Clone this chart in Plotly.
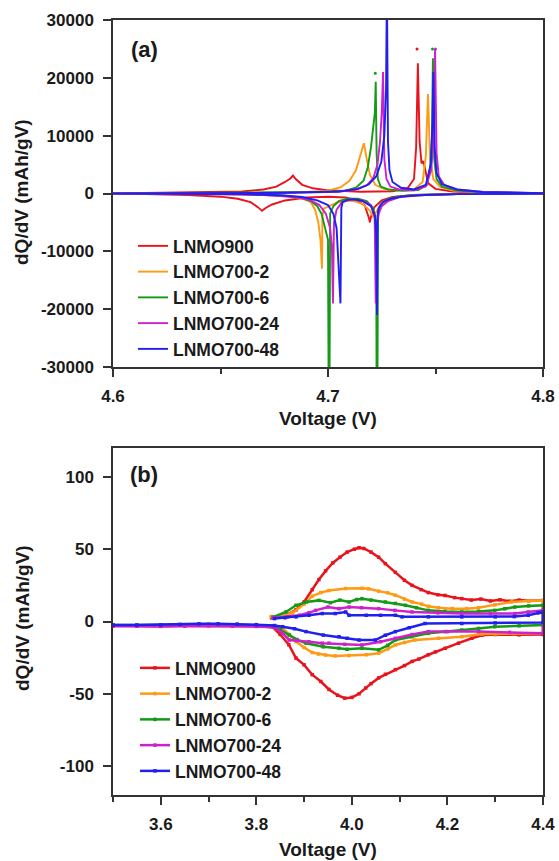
import plotly.graph_objects as go

W, H = 559, 861

names = ["LNMO900", "LNMO700-2", "LNMO700-6", "LNMO700-24", "LNMO700-48"]
colors = ["#e8141c", "#ff9a14", "#159a15", "#cc22cc", "#2020ee"]

# ---------------- panel (a): 4.6 - 4.8 V ----------------
red_v_chg = [4.600, 4.640, 4.660, 4.670, 4.676, 4.680, 4.6825, 4.6837, 4.685, 4.688, 4.693, 4.700, 4.715, 4.730, 4.737, 4.7400, 4.7410, 4.7418, 4.7426, 4.7435, 4.7443, 4.7452, 4.7465, 4.750, 4.758, 4.770, 4.800]
red_q_chg = [0, 150, 350, 700, 1200, 2000, 2600, 3100, 2500, 1500, 900, 550, 300, 400, 900, 2500, 8000, 22500, 9000, 5200, 5600, 4200, 1800, 800, 350, 150, 50]
red_v_dis = [4.800, 4.760, 4.740, 4.730, 4.725, 4.7215, 4.7200, 4.7195, 4.7190, 4.7170, 4.7130, 4.708, 4.700, 4.690, 4.680, 4.674, 4.6710, 4.6693, 4.6675, 4.664, 4.658, 4.650, 4.635, 4.615, 4.600]
red_q_dis = [0, -80, -250, -600, -1200, -2400, -4000, -5000, -4200, -2000, -1100, -700, -550, -700, -1200, -1900, -2500, -3000, -2400, -1500, -900, -550, -250, -100, 0]

org_v_chg = [4.600, 4.660, 4.690, 4.700, 4.706, 4.710, 4.7130, 4.7150, 4.7167, 4.7180, 4.7195, 4.722, 4.726, 4.733, 4.740, 4.7440, 4.7455, 4.7465, 4.7475, 4.7490, 4.752, 4.758, 4.770, 4.800]
org_q_chg = [0, 80, 250, 500, 1100, 2200, 4000, 6500, 8700, 6000, 3200, 1500, 800, 500, 700, 2000, 6500, 17200, 6000, 2500, 1200, 500, 150, 30]
org_v_dis = [4.800, 4.760, 4.745, 4.735, 4.728, 4.7245, 4.7220, 4.7210, 4.7195, 4.716, 4.712, 4.708, 4.704, 4.700, 4.6980, 4.6974, 4.6972, 4.6965, 4.6955, 4.694, 4.692, 4.689, 4.684, 4.675, 4.660, 4.640, 4.600]
org_q_dis = [0, -100, -250, -500, -1000, -2000, -3500, -4000, -3000, -1800, -1300, -1200, -1600, -2200, -2600, -4000, -13000, -8000, -5000, -2800, -1500, -1000, -600, -300, -150, -50, 0]

grn_v_chg = [4.600, 4.680, 4.700, 4.708, 4.713, 4.7165, 4.7185, 4.7200, 4.7210, 4.7218, 4.7222, 4.7226, 4.7232, 4.7245, 4.728, 4.735, 4.742, 4.7460, 4.7475, 4.7483, 4.7488, 4.7494, 4.7505, 4.753, 4.760, 4.772, 4.800]
grn_q_chg = [0, 100, 250, 500, 1000, 2200, 4500, 8000, 11500, 14000, 19300, 7000, 2500, 1200, 700, 450, 600, 1500, 4500, 9000, 23400, 6000, 2500, 1200, 500, 200, 50]
grn_v_dis = [4.800, 4.760, 4.740, 4.732, 4.727, 4.7245, 4.7233, 4.7230, 4.7226, 4.7224, 4.7210, 4.7180, 4.714, 4.709, 4.705, 4.7025, 4.7010, 4.7007, 4.7003, 4.7000, 4.6985, 4.6970, 4.695, 4.692, 4.688, 4.680, 4.665, 4.640, 4.600]
grn_q_dis = [0, -80, -250, -550, -1100, -1900, -3000, -35000, -35000, -5000, -2500, -1300, -900, -900, -1300, -2200, -3500, -35000, -35000, -8000, -5500, -3500, -2200, -1300, -800, -400, -150, -50, 0]

mag_v_chg = [4.600, 4.680, 4.705, 4.713, 4.718, 4.7210, 4.7230, 4.7242, 4.7250, 4.7256, 4.7262, 4.7272, 4.729, 4.733, 4.740, 4.7455, 4.7480, 4.7490, 4.7498, 4.7505, 4.7515, 4.754, 4.760, 4.772, 4.800]
mag_q_chg = [0, 100, 300, 700, 1400, 2600, 5000, 9000, 14000, 21000, 6000, 2500, 1200, 700, 550, 1200, 4000, 9000, 25000, 7000, 3000, 1500, 700, 250, 60]
mag_v_dis = [4.800, 4.760, 4.742, 4.733, 4.728, 4.7250, 4.7236, 4.7228, 4.7222, 4.7217, 4.7200, 4.716, 4.711, 4.7065, 4.7040, 4.7028, 4.7023, 4.7018, 4.7010, 4.6990, 4.696, 4.692, 4.685, 4.670, 4.645, 4.600]
mag_q_dis = [0, -100, -300, -650, -1300, -2200, -3500, -5500, -19000, -4000, -2000, -1200, -1000, -1500, -2800, -5000, -19000, -9000, -6000, -3500, -2000, -1200, -600, -250, -80, 0]

blu_v_chg = [4.600, 4.680, 4.705, 4.714, 4.719, 4.7225, 4.7248, 4.7262, 4.7270, 4.7274, 4.7279, 4.7286, 4.730, 4.734, 4.740, 4.7455, 4.7478, 4.7486, 4.7490, 4.7496, 4.7505, 4.753, 4.760, 4.772, 4.800]
blu_q_chg = [0, 120, 350, 800, 1600, 3000, 5500, 10000, 18000, 36000, 9000, 4000, 2000, 1000, 700, 1500, 5000, 12000, 21000, 8000, 3500, 1600, 700, 250, 60]
blu_v_dis = [4.800, 4.760, 4.745, 4.735, 4.7290, 4.7255, 4.7236, 4.7230, 4.7228, 4.7224, 4.7218, 4.720, 4.716, 4.712, 4.709, 4.7068, 4.7062, 4.7058, 4.7054, 4.7048, 4.7040, 4.7025, 4.700, 4.695, 4.688, 4.678, 4.660, 4.600]
blu_q_dis = [0, -100, -250, -500, -900, -1500, -2500, -4000, -21000, -7000, -3800, -2200, -1300, -1000, -1100, -1500, -2500, -19000, -16000, -10000, -6000, -3500, -2000, -1200, -600, -300, -100, 0]

# stray isolated points near the tops of the charge peaks
dots_v = [[4.7414], [], [4.7220, 4.7486], [4.7500], []]
dots_q = [[25000], [], [20800, 25000], [25000], []]

# ---------------- panel (b): 3.5 - 4.4 V ----------------
red_b_v_chg = [3.832, 3.850, 3.865, 3.883, 3.900, 3.917, 3.931, 3.945, 3.960, 3.975, 3.990, 4.005, 4.015, 4.025, 4.040, 4.056, 4.070, 4.091, 4.110, 4.126, 4.145, 4.160, 4.180, 4.195, 4.215, 4.230, 4.250, 4.270, 4.290, 4.310, 4.330, 4.350, 4.370, 4.400]
red_b_q_chg = [2.5, 3.5, 5.0, 8.0, 13.5, 22.0, 29.0, 35.0, 40.5, 44.5, 48.0, 50.0, 51.0, 50.5, 48.0, 44.5, 40.0, 34.0, 28.5, 25.0, 22.0, 20.0, 18.5, 18.0, 16.5, 15.8, 14.8, 15.5, 14.2, 15.0, 14.0, 14.8, 14.3, 14.6]
red_b_v_dis = [4.400, 4.350, 4.300, 4.272, 4.251, 4.223, 4.195, 4.175, 4.160, 4.140, 4.126, 4.110, 4.091, 4.070, 4.056, 4.040, 4.029, 4.015, 4.000, 3.985, 3.970, 3.952, 3.935, 3.917, 3.900, 3.883, 3.868, 3.850, 3.835, 3.800, 3.750, 3.700, 3.650, 3.600, 3.550, 3.500]
red_b_q_dis = [-9.0, -9.2, -9.0, -9.5, -11.6, -15.0, -18.5, -21.0, -23.0, -26.0, -27.6, -30.5, -33.3, -36.5, -39.0, -43.0, -46.0, -50.0, -52.5, -53.0, -51.0, -47.0, -41.5, -36.8, -30.0, -25.3, -16.0, -9.0, -4.0, -3.2, -3.0, -2.5, -2.8, -3.2, -3.0, -3.0]

org_b_v_chg = [3.831, 3.850, 3.876, 3.900, 3.917, 3.935, 3.952, 3.987, 4.021, 4.035, 4.056, 4.075, 4.091, 4.110, 4.126, 4.146, 4.160, 4.181, 4.210, 4.240, 4.265, 4.299, 4.334, 4.370, 4.400]
org_b_q_chg = [3.4, 3.8, 6.0, 12.0, 17.5, 20.0, 21.4, 22.8, 23.0, 22.6, 21.0, 19.8, 18.2, 15.5, 13.5, 12.0, 10.5, 9.5, 8.9, 8.9, 9.5, 11.5, 13.5, 14.2, 14.6]
org_b_v_dis = [4.400, 4.340, 4.300, 4.272, 4.230, 4.181, 4.132, 4.110, 4.091, 4.075, 4.056, 4.030, 3.994, 3.965, 3.945, 3.930, 3.917, 3.900, 3.883, 3.869, 3.855, 3.838, 3.800, 3.750, 3.700, 3.650, 3.600, 3.550, 3.500]
org_b_q_dis = [-8.2, -8.3, -8.5, -8.6, -10.5, -11.6, -12.8, -14.5, -16.2, -19.0, -21.9, -23.0, -23.5, -23.8, -23.2, -22.5, -21.5, -18.0, -13.9, -9.0, -4.8, -3.0, -2.8, -2.6, -2.2, -2.6, -2.8, -2.7, -2.6]

grn_b_v_chg = [3.835, 3.862, 3.883, 3.905, 3.931, 3.955, 3.975, 3.994, 4.010, 4.021, 4.040, 4.070, 4.091, 4.112, 4.135, 4.160, 4.195, 4.230, 4.265, 4.299, 4.320, 4.341, 4.370, 4.400]
grn_b_q_chg = [3.0, 6.6, 11.2, 13.5, 14.6, 13.0, 14.8, 13.5, 15.2, 15.8, 14.8, 13.5, 12.5, 11.2, 9.5, 7.7, 7.0, 6.6, 7.0, 7.7, 8.8, 10.0, 10.8, 11.2]
grn_b_v_dis = [4.400, 4.350, 4.299, 4.265, 4.230, 4.195, 4.160, 4.125, 4.091, 4.075, 4.056, 4.021, 3.990, 3.973, 3.940, 3.904, 3.885, 3.869, 3.850, 3.836, 3.800, 3.750, 3.700, 3.650, 3.600, 3.550, 3.500]
grn_b_q_dis = [-2.5, -3.0, -3.6, -4.8, -5.9, -7.0, -8.2, -10.5, -12.8, -16.5, -19.6, -18.5, -19.2, -18.5, -17.5, -15.0, -12.5, -9.4, -5.5, -3.0, -2.6, -2.4, -1.9, -2.3, -2.6, -2.5, -2.4]

mag_b_v_chg = [3.836, 3.865, 3.890, 3.910, 3.924, 3.950, 3.973, 3.994, 4.020, 4.056, 4.090, 4.126, 4.180, 4.230, 4.290, 4.341, 4.369, 4.400]
mag_b_q_chg = [2.5, 3.2, 4.3, 6.0, 7.7, 10.0, 8.9, 10.0, 9.5, 8.9, 7.7, 6.6, 6.0, 5.5, 5.5, 5.5, 6.6, 7.7]
mag_b_v_dis = [4.400, 4.330, 4.265, 4.200, 4.160, 4.126, 4.091, 4.060, 4.021, 3.985, 3.952, 3.938, 3.910, 3.885, 3.869, 3.855, 3.838, 3.800, 3.750, 3.700, 3.650, 3.600, 3.550, 3.500]
mag_b_q_dis = [-8.2, -7.5, -7.0, -7.0, -7.0, -9.0, -11.6, -14.0, -16.2, -15.8, -15.0, -15.0, -14.0, -13.2, -12.8, -8.2, -4.0, -3.4, -3.2, -3.0, -3.2, -3.4, -3.3, -3.2]

blu_b_v_chg = [3.838, 3.860, 3.883, 3.910, 3.938, 3.965, 3.987, 3.994, 4.030, 4.060, 4.091, 4.105, 4.160, 4.230, 4.300, 4.340, 4.369, 4.390, 4.400]
blu_b_q_chg = [2.0, 2.6, 3.2, 4.3, 5.5, 5.5, 6.6, 4.3, 4.3, 4.3, 4.3, 3.2, 3.2, 3.2, 3.2, 3.4, 4.3, 6.0, 6.6]
blu_b_v_dis = [4.400, 4.300, 4.230, 4.153, 4.120, 4.091, 4.070, 4.049, 4.015, 3.990, 3.973, 3.940, 3.904, 3.880, 3.855, 3.838, 3.800, 3.760, 3.720, 3.680, 3.640, 3.600, 3.550, 3.500]
blu_b_q_dis = [-0.7, -1.0, -1.4, -1.4, -4.3, -7.0, -9.5, -12.8, -12.8, -11.6, -10.5, -9.4, -7.0, -5.0, -3.6, -2.8, -2.2, -1.8, -1.6, -1.6, -2.0, -2.4, -2.5, -2.5]

# tick labels
a_xticks = [4.6, 4.7, 4.8]
a_xlabels = ["4.6", "4.7", "4.8"]
a_xminor = [4.65, 4.75]
a_yticks = [-30000, -20000, -10000, 0, 10000, 20000, 30000]
a_ylabels = ["-30000", "-20000", "-10000", "0", "10000", "20000", "30000"]
b_xticks = [3.6, 3.8, 4.0, 4.2, 4.4]
b_xlabels = ["3.6", "3.8", "4.0", "4.2", "4.4"]
b_xminor = [3.5, 3.7, 3.9, 4.1, 4.3]
b_yticks = [-100, -50, 0, 50, 100]
b_ylabels = ["-100", "-50", "0", "50", "100"]

panel_a = [
    (red_v_chg + red_v_dis, red_q_chg + red_q_dis),
    (org_v_chg + org_v_dis, org_q_chg + org_q_dis),
    (grn_v_chg + grn_v_dis, grn_q_chg + grn_q_dis),
    (mag_v_chg + mag_v_dis, mag_q_chg + mag_q_dis),
    (blu_v_chg + blu_v_dis, blu_q_chg + blu_q_dis),
]
panel_b = [
    (red_b_v_chg + red_b_v_dis, red_b_q_chg + red_b_q_dis),
    (org_b_v_chg + org_b_v_dis, org_b_q_chg + org_b_q_dis),
    (grn_b_v_chg + grn_b_v_dis, grn_b_q_chg + grn_b_q_dis),
    (mag_b_v_chg + mag_b_v_dis, mag_b_q_chg + mag_b_q_dis),
    (blu_b_v_chg + blu_b_v_dis, blu_b_q_chg + blu_b_q_dis),
]

FONT = "Liberation Sans, Arial, Helvetica, sans-serif"
TXT = "#1a1a1a"
AX = "#333333"

fig = go.Figure()
for i, (vx, qy) in enumerate(panel_a):
    fig.add_trace(go.Scatter(x=vx, y=qy, mode="lines", name=names[i],
                             line=dict(color=colors[i], width=1.9),
                             xaxis="x", yaxis="y", legend="legend"))
for i in range(5):
    if dots_v[i]:
        fig.add_trace(go.Scatter(x=dots_v[i], y=dots_q[i], mode="markers",
                                 marker=dict(color=colors[i], size=3),
                                 showlegend=False, xaxis="x", yaxis="y"))
for i, (vx, qy) in enumerate(panel_b):
    fig.add_trace(go.Scatter(x=vx, y=qy, mode="lines+markers", name=names[i],
                             line=dict(color=colors[i], width=2.5),
                             marker=dict(color=colors[i], size=3.5, symbol="square"),
                             xaxis="x2", yaxis="y2", legend="legend2"))

def px_x(p):
    return p / W

def px_y(p):
    return 1 - p / H

tickfont = dict(family=FONT, size=17, color=TXT, weight="bold")
common = dict(showgrid=False, zeroline=False, showline=True, linecolor=AX, linewidth=1.5,
              mirror=True, ticks="outside", ticklen=8, tickwidth=1.5, tickcolor=AX,
              tickfont=tickfont, automargin=False)

legfont = dict(family=FONT, size=17.5, color=TXT, weight="bold")

fig.update_layout(
    width=W, height=H,
    margin=dict(l=0, r=0, t=0, b=0, pad=0, autoexpand=False),
    paper_bgcolor="white", plot_bgcolor="white",
    xaxis=dict(domain=[px_x(113), px_x(543)], anchor="y", range=[4.6, 4.8],
               tickmode="array", tickvals=a_xticks, ticktext=a_xlabels,
               minor=dict(ticks="outside", ticklen=5, tickwidth=1.5, tickcolor=AX, tickvals=a_xminor),
               ticklabelstandoff=5, **common),
    yaxis=dict(domain=[px_y(367), px_y(20)], anchor="x", range=[-30000, 30000],
               tickmode="array", tickvals=a_yticks, ticktext=a_ylabels,
               ticklabelstandoff=6, **common),
    xaxis2=dict(domain=[px_x(113), px_x(543)], anchor="y2", range=[3.5, 4.4],
                tickmode="array", tickvals=b_xticks, ticktext=b_xlabels,
                minor=dict(ticks="outside", ticklen=5, tickwidth=1.5, tickcolor=AX, tickvals=b_xminor),
                ticklabelstandoff=5, **common),
    yaxis2=dict(domain=[px_y(795), px_y(448)], anchor="x2", range=[-120, 120],
                tickmode="array", tickvals=b_yticks, ticktext=b_ylabels,
                ticklabelstandoff=6, **common),
    legend=dict(x=px_x(133), y=px_y(228), xanchor="left", yanchor="top",
                bgcolor="rgba(0,0,0,0)", font=legfont, tracegroupgap=0),
    legend2=dict(x=px_x(135), y=px_y(650), xanchor="left", yanchor="top",
                 bgcolor="rgba(0,0,0,0)", font=legfont, tracegroupgap=0),
    showlegend=True,
)

ann_font = dict(family=FONT, color=TXT, weight="bold")
annotations = [
    dict(text="(a)", x=px_x(144), y=px_y(50), size=22, angle=0),
    dict(text="(b)", x=px_x(144), y=px_y(474), size=22, angle=0),
    dict(text="Voltage (V)", x=px_x(328), y=px_y(418), size=19, angle=0),
    dict(text="Voltage (V)", x=px_x(328), y=px_y(849), size=19, angle=0),
    dict(text="dQ/dV (mAh/gV)", x=px_x(22), y=px_y(192), size=19, angle=-90),
    dict(text="dQ/dV (mAh/gV)", x=px_x(22), y=px_y(618), size=19, angle=-90),
]
for a in annotations:
    fig.add_annotation(text=a["text"], x=a["x"], y=a["y"], xref="paper", yref="paper",
                       xanchor="center", yanchor="middle", showarrow=False,
                       textangle=a["angle"], font=dict(size=a["size"], **ann_font))

fig.write_html("out.html", config={"displayModeBar": False},
               post_script="document.body.style.margin='0px';document.body.style.overflow='hidden';")
